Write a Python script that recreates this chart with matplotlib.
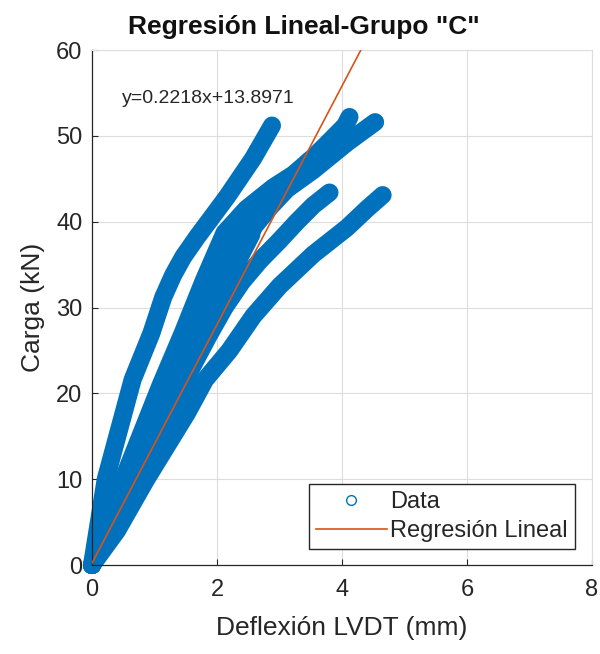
import matplotlib
matplotlib.use('Agg')
import matplotlib.pyplot as plt
import numpy as np

plt.rcParams['font.family'] = ['Liberation Sans', 'DejaVu Sans']

# curvas carga-deflexion
x_a = [0, 0.22, 0.65, 0.95, 1.14, 1.30, 1.46, 1.68, 2.16, 2.58, 2.88]
y_a = [0, 10.0, 21.6, 27.0, 31.2, 33.8, 35.9, 38.2, 42.9, 47.4, 51.2]

x_b = [0, 0.50, 1.10, 1.45, 1.78, 2.12, 2.47, 2.90, 3.22, 3.54, 3.75, 4.05, 4.12]
y_b = [0, 10.0, 21.0, 27.0, 33.0, 38.7, 41.5, 44.0, 45.5, 47.5, 49.0, 51.2, 52.2]

x_c = [0, 0.60, 1.25, 1.80, 2.25, 2.60, 2.85, 3.12, 3.54, 4.08, 4.53]
y_c = [0, 10.5, 20.5, 28.5, 34.5, 39.5, 41.7, 43.8, 46.0, 49.2, 51.6]

x_d = [0, 0.70, 1.45, 1.85, 2.12, 2.40, 2.69, 3.00, 3.28, 3.54, 3.80]
y_d = [0, 10.0, 21.0, 26.5, 30.0, 33.0, 35.5, 37.8, 40.0, 41.9, 43.4]

x_e = [0, 0.40, 0.87, 1.52, 1.81, 2.20, 2.58, 3.00, 3.54, 4.08, 4.40, 4.65]
y_e = [0, 4.0, 10.0, 17.7, 21.6, 25.0, 29.0, 32.5, 36.2, 39.3, 41.5, 43.1]

x_f = [0, 0.55, 1.25, 1.75, 2.20, 2.60, 3.00, 3.49]
y_f = [0, 10.0, 22.0, 30.0, 36.5, 40.5, 43.5, 47.2]

x_g = [0, 0.60, 1.35, 2.00, 2.40, 2.72]
y_g = [0, 10.5, 22.5, 31.5, 37.5, 42.2]

x_h = [0, 0.65, 1.40, 1.95, 2.30, 2.55]
y_h = [0, 10.0, 21.0, 30.0, 35.0, 38.5]

x_i = [0, 0.55, 1.20, 1.65, 2.00, 2.35, 2.60]
y_i = [0, 10.5, 22.0, 29.5, 35.0, 39.0, 41.0]

curvas = [(x_a, y_a), (x_b, y_b), (x_c, y_c), (x_d, y_d), (x_e, y_e),
          (x_f, y_f), (x_g, y_g), (x_h, y_h), (x_i, y_i)]

# regresion lineal
pendiente = 13.8971
intercepto = 0.2218
x_reg = np.array([0, 4.67])
texto_ec = 'y=0.2218x+13.8971'

azul = '#0072BD'
naranja = '#D95319'
gris = '#262626'

fig = plt.figure(figsize=(6, 6.54), dpi=100)
ax = fig.add_axes([0.1533, 0.136, 0.8334, 0.7875])

for xs, ys in curvas:
    ax.plot(xs, ys, '-', color=azul, lw=13, solid_capstyle='round',
            solid_joinstyle='round', zorder=2, clip_on=False)

# marcador para la leyenda
ax.plot([], [], 'o', ms=7, mfc='none', mec=azul, mew=1.0, label='Data')
ax.plot(x_reg, pendiente * x_reg + intercepto, color=naranja, lw=1.2,
        label='Regresión Lineal', zorder=3)

ax.text(0.48, 54.4, texto_ec, fontsize=14, va='center', ha='left', color=gris)

ax.set_xlim(0, 8)
ax.set_ylim(0, 60)
ax.set_xticks([0, 2, 4, 6, 8])
ax.set_yticks([0, 10, 20, 30, 40, 50, 60])
ax.grid(True, color='#dddddd', lw=0.8)
ax.set_axisbelow(True)
ax.tick_params(direction='in', length=4, labelsize=17, colors=gris, pad=7)
ax.tick_params(axis='x', pad=10)
for s in ['left', 'bottom']:
    ax.spines[s].set_color(gris)
    ax.spines[s].set_linewidth(0.9)
for s in ['top', 'right']:
    ax.spines[s].set_color('#dddddd')
    ax.spines[s].set_linewidth(0.8)

ax.set_xlabel('Deflexión LVDT (mm)', fontsize=19, color=gris, labelpad=11)
ax.set_ylabel('Carga (kN)', fontsize=19, color=gris, labelpad=8)
fig.text(0.507, 0.958, 'Regresión Lineal-Grupo "C"', fontsize=19,
         fontweight='bold', ha='center', va='center', color='#111111')

leg = ax.legend(loc='lower right', bbox_to_anchor=(0.966, 0.031),
                borderaxespad=0, fontsize=17, fancybox=False, framealpha=1,
                edgecolor=gris, handlelength=3.0, handletextpad=0.15,
                labelspacing=0.3, borderpad=0.3)
leg.get_frame().set_linewidth(1.0)
for t in leg.get_texts():
    t.set_color(gris)

plt.savefig('out.png', dpi=100)
